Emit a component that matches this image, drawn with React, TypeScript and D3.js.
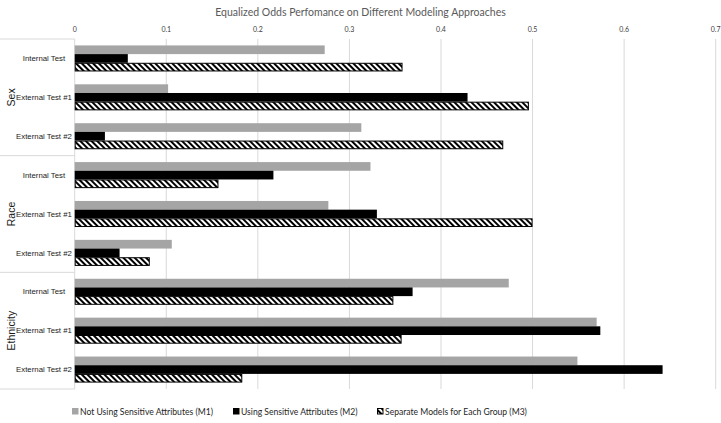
import React from "react";
import * as d3 from "d3";

const groups = ["Sex", "Race", "Ethnicity"];
const tests = ["Internal Test", "External Test #1", "External Test #2"];
const seriesNames = [
  "Not Using Sensitive Attributes (M1)",
  "Using Sensitive Attributes (M2)",
  "Separate Models for Each Group (M3)",
];
// values per group, per test: [M1, M2, M3]
const sexValues = [
  [0.273, 0.058, 0.358],
  [0.102, 0.429, 0.496],
  [0.313, 0.033, 0.468],
];
const raceValues = [
  [0.323, 0.217, 0.157],
  [0.277, 0.33, 0.5],
  [0.106, 0.049, 0.082],
];
const ethnicityValues = [
  [0.474, 0.369, 0.348],
  [0.57, 0.574, 0.357],
  [0.549, 0.642, 0.183],
];
const xTicks = [0, 0.1, 0.2, 0.3, 0.4, 0.5, 0.6, 0.7];
const title = "Equalized Odds Perfomance on Different Modeling Approaches";

const W = 721;
const H = 423;

export default function App() {
  const allValues = [sexValues, raceValues, ethnicityValues];
  const rows: { key: string; group: number; test: number; vals: number[] }[] = [];
  groups.forEach((g, gi) =>
    tests.forEach((t, ti) => rows.push({ key: g + "|" + t, group: gi, test: ti, vals: allValues[gi][ti] }))
  );

  const left = 74.7;
  const right = 715.7;
  const top = 39;
  const bottom = 389;

  const x = d3.scaleLinear().domain([0, 0.7]).range([left, right]);
  const y = d3.scaleBand().domain(rows.map((r) => r.key)).range([top, bottom]).padding(0);
  const yInner = d3
    .scaleBand()
    .domain(["0", "1", "2"])
    .range([0, y.bandwidth()])
    .paddingInner(0)
    .paddingOuter(0.74);
  const groupScale = d3.scaleBand().domain(groups).range([top, bottom]).padding(0);

  const fills = ["#a5a5a5", "#000000", "url(#hatch)"];
  const labelFont = "'Liberation Sans', Arial, sans-serif";
  const calFont = "Lato, 'Open Sans', sans-serif";

  const legendX = [72, 233, 377];

  return (
    <svg width={W} height={H} style={{ position: "absolute", left: 0, top: 0, background: "#fff" }}>
      <defs>
        <pattern id="hatch" patternUnits="userSpaceOnUse" width={4} height={4} patternTransform="rotate(-45)">
          <rect x={0} y={0} width={4} height={4} fill="#fff" />
          <rect x={0} y={0} width={2} height={4} fill="#000" />
        </pattern>
      </defs>
      <rect width={W} height={H} fill="#fff" />
      <text x={W / 2} y={16} textAnchor="middle" fontFamily={calFont} fontSize={10.5} fill="#595959">
        {title}
      </text>
      {/* gridlines */}
      {xTicks.map((t) => (
        <g key={t}>
          <line x1={x(t)} x2={x(t)} y1={top} y2={bottom} stroke="#d9d9d9" strokeWidth={1} />
          <text x={x(t)} y={32} textAnchor="middle" fontFamily={calFont} fontSize={7} fill="#404040">
            {String(t)}
          </text>
        </g>
      ))}
      {/* group dividers */}
      {[top, ...groups.map((g) => (groupScale(g) as number) + groupScale.bandwidth())].map((yy, i) => (
        <line key={i} x1={0} x2={left} y1={yy} y2={yy} stroke="#d9d9d9" strokeWidth={1} />
      ))}
      {/* group labels */}
      {groups.map((g) => {
        const cy = (groupScale(g) as number) + groupScale.bandwidth() / 2;
        return (
          <text
            key={g}
            transform={`translate(15,${cy}) rotate(-90)`}
            textAnchor="middle"
            fontFamily={labelFont}
            fontSize={10.5}
            fill="#1a1a1a"
          >
            {g}
          </text>
        );
      })}
      {/* bars */}
      {rows.map((r) => {
        const y0 = y(r.key) as number;
        return (
          <g key={r.key}>
            <text
              x={44}
              y={y0 + y.bandwidth() / 2 + 2.7}
              textAnchor="middle"
              fontFamily={labelFont}
              fontSize={7.8}
              fill="#1a1a1a"
            >
              {tests[r.test]}
            </text>
            {r.vals.map((v, si) => {
              const by = y0 + (yInner(String(si)) as number);
              const bh = yInner.bandwidth();
              if (si === 2) {
                return (
                  <rect
                    key={si}
                    x={x(0) + 0.5}
                    y={by + 0.5}
                    width={x(v) - x(0) - 1}
                    height={bh - 1}
                    fill={fills[si]}
                    stroke="#000"
                    strokeWidth={1}
                  />
                );
              }
              return <rect key={si} x={x(0)} y={by} width={x(v) - x(0)} height={bh} fill={fills[si]} />;
            })}
          </g>
        );
      })}
      {/* legend */}
      {seriesNames.map((s, i) => (
        <g key={s}>
          {i === 2 ? (
            <rect x={legendX[i] + 0.5} y={408.5} width={5.5} height={5.5} fill="url(#hatch)" stroke="#000" strokeWidth={1} />
          ) : (
            <rect x={legendX[i]} y={408} width={6.5} height={6.5} fill={fills[i]} />
          )}
          <text x={legendX[i] + 8} y={414.5} fontFamily={calFont} fontSize={8.6} fill="#262626">
            {s}
          </text>
        </g>
      ))}
    </svg>
  );
}
